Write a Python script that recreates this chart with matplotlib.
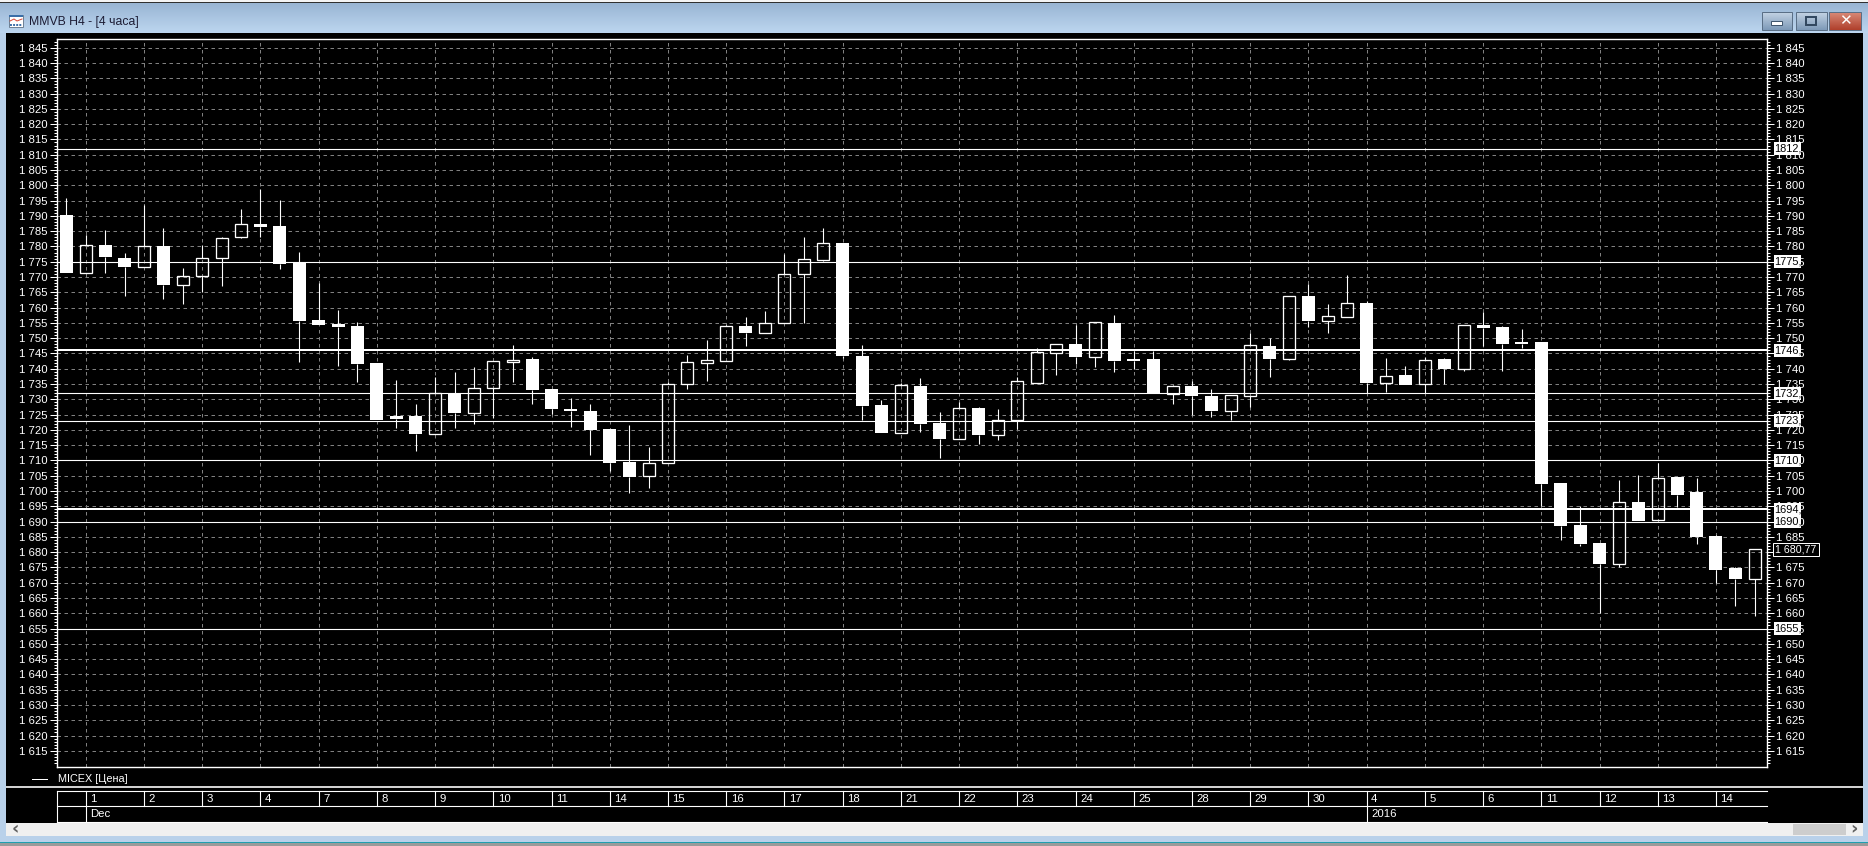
import matplotlib
matplotlib.use('Agg')
import matplotlib.pyplot as plt
from matplotlib.patches import Rectangle
import numpy as np

W, H = 1868, 846
plt.rcParams['font.family'] = ['Liberation Sans', 'DejaVu Sans']
PX = 0.72  # one pixel in points at dpi 100
LABEL_SIZE = 8.2

# candles, one row per 4 hour bar
opens = [1790.4, 1771.3, 1780.6, 1776.3, 1773.4, 1780.2, 1767.4, 1770.4, 1776.3, 1783.2,
         1787.4, 1786.7, 1774.5, 1755.8, 1754.5, 1753.9, 1741.8, 1724.5, 1724.5, 1718.5,
         1732.1, 1725.5, 1733.6, 1742.3, 1743.2, 1733.4, 1726.8, 1726.0, 1720.4, 1709.5,
         1704.8, 1709.0, 1734.9, 1741.8, 1742.6, 1754.0, 1751.8, 1754.8, 1771.1, 1775.6,
         1781.1, 1744.2, 1728.1, 1719.0, 1734.3, 1722.2, 1717.1, 1727.1, 1718.4, 1723.3,
         1735.4, 1745.2, 1748.1, 1743.7, 1755.0, 1743.2, 1743.2, 1731.8, 1734.3, 1731.0,
         1726.3, 1731.2, 1747.4, 1743.3, 1763.8, 1755.7, 1756.8, 1761.5, 1735.4, 1737.9,
         1734.9, 1743.2, 1740.0, 1754.2, 1753.6, 1748.7, 1748.7, 1702.6, 1688.9, 1683.0,
         1676.2, 1696.4, 1690.4, 1704.5, 1699.7, 1685.3, 1674.8, 1671.3]
closes = [1771.2, 1780.4, 1776.5, 1773.3, 1780.1, 1767.4, 1770.3, 1776.2, 1782.7, 1787.3,
          1786.5, 1774.1, 1755.5, 1754.3, 1753.6, 1741.5, 1723.3, 1723.4, 1718.5, 1732.2,
          1725.4, 1733.6, 1742.4, 1743.0, 1733.0, 1726.8, 1726.0, 1720.0, 1709.2, 1704.6,
          1709.0, 1734.9, 1742.1, 1742.7, 1753.9, 1751.7, 1754.8, 1770.9, 1775.8, 1781.0,
          1744.2, 1727.8, 1718.9, 1734.6, 1721.9, 1717.0, 1727.0, 1718.3, 1723.3, 1735.9,
          1745.3, 1748.0, 1743.8, 1755.2, 1742.5, 1742.5, 1731.7, 1734.2, 1731.0, 1726.2,
          1731.3, 1747.6, 1743.2, 1763.7, 1755.6, 1757.1, 1761.4, 1735.3, 1737.7, 1734.6,
          1742.7, 1740.0, 1754.2, 1753.4, 1748.0, 1748.2, 1702.3, 1688.5, 1682.6, 1676.1,
          1696.3, 1690.2, 1704.4, 1698.7, 1684.9, 1674.1, 1671.2, 1680.9]
highs = [1795.7, 1783.7, 1785.3, 1778.0, 1793.5, 1785.9, 1772.8, 1780.3, 1783.2, 1792.3,
         1798.9, 1795.1, 1778.3, 1767.9, 1759.1, 1755.3, 1741.8, 1736.3, 1728.5, 1737.4,
         1739.0, 1740.6, 1742.4, 1747.7, 1743.8, 1733.4, 1730.4, 1728.5, 1720.4, 1721.5,
         1714.3, 1735.8, 1744.5, 1749.4, 1754.3, 1756.9, 1758.9, 1777.5, 1783.1, 1786.0,
         1781.1, 1747.8, 1729.8, 1735.4, 1736.9, 1725.8, 1729.1, 1727.4, 1726.8, 1737.2,
         1746.7, 1748.0, 1754.2, 1755.2, 1757.6, 1745.9, 1745.8, 1734.5, 1736.0, 1733.2,
         1731.3, 1751.8, 1750.1, 1763.7, 1767.7, 1761.2, 1770.6, 1762.0, 1743.5, 1740.9,
         1743.9, 1743.4, 1754.2, 1758.4, 1754.0, 1753.0, 1748.7, 1702.6, 1695.1, 1683.0,
         1703.6, 1705.2, 1709.0, 1704.5, 1704.2, 1685.5, 1675.2, 1680.9]
lows = [1771.2, 1771.3, 1771.2, 1763.8, 1773.4, 1762.7, 1761.1, 1765.1, 1767.1, 1782.7,
        1783.2, 1772.5, 1742.3, 1754.3, 1741.0, 1735.5, 1723.3, 1720.7, 1713.0, 1718.5,
        1720.7, 1722.0, 1723.8, 1735.5, 1728.5, 1725.2, 1720.9, 1711.9, 1706.6, 1699.4,
        1701.1, 1709.0, 1733.5, 1736.0, 1742.6, 1747.4, 1751.8, 1754.8, 1755.0, 1775.1,
        1743.6, 1723.2, 1718.9, 1719.0, 1719.3, 1710.9, 1717.1, 1715.4, 1716.7, 1720.2,
        1735.4, 1738.0, 1741.5, 1740.7, 1738.9, 1740.0, 1731.7, 1728.5, 1724.8, 1724.2,
        1723.2, 1727.4, 1737.4, 1742.8, 1753.7, 1751.8, 1756.8, 1732.2, 1732.5, 1734.6,
        1732.2, 1735.1, 1739.3, 1747.4, 1739.3, 1746.8, 1695.2, 1684.0, 1682.0, 1660.2,
        1675.2, 1690.2, 1690.4, 1694.7, 1682.6, 1669.8, 1662.5, 1659.2]

levels = [1812, 1775, 1746, 1732, 1723, 1710, 1694, 1690, 1655]
thick_levels = [1746, 1694]
last_price = 1680.77
last_label = '1 680,77'

price_ticks = list(range(1615, 1850, 5))
days = ['1', '2', '3', '4', '7', '8', '9', '10', '11', '14', '15', '16', '17', '18', '21',
        '22', '23', '24', '25', '28', '29', '30', '4', '5', '6', '11', '12', '13', '14']
periods = {'Dec': 0, '2016': 22}

fig = plt.figure(figsize=(W / 100, H / 100), dpi=100, facecolor='#b9d1ea')

# window chrome, in pixels
ui = fig.add_axes([0, 0, 1, 1], zorder=0)
grad = np.linspace(0, 1, 64).reshape(-1, 1, 1)
title_col = np.array([0.60, 0.71, 0.83]) * (1 - grad) + np.array([0.74, 0.84, 0.94]) * grad
ui.imshow(title_col, extent=[0, W, 33, 3], aspect='auto', zorder=1, interpolation='bilinear')
ui.add_patch(Rectangle((0, 0), W, 2, fc='#f4f4f4', ec='none', zorder=2))
ui.add_patch(Rectangle((0, 2), W, 1, fc='#303030', ec='none', zorder=2))
ui.add_patch(Rectangle((6, 33), 1857, 790, fc='black', ec='none', zorder=2))
ui.add_patch(Rectangle((6, 823), 1857, 13, fc='#f0f0f0', ec='none', zorder=2))
ui.add_patch(Rectangle((1793, 824), 53, 11, fc='#cdcdcd', ec='none', zorder=3))
ui.add_patch(Rectangle((0, 842), W, 1, fc='#1f9fb0', ec='none', zorder=3))
ui.add_patch(Rectangle((0, 843), W, 3, fc='#9a9a9a', ec='none', zorder=3))
ui.text(15, 829.5, '‹', color='#606060', fontsize=13, fontweight='bold', ha='center', va='center',
        family='DejaVu Sans', zorder=4)
ui.text(1854, 829.5, '›', color='#606060', fontsize=13, fontweight='bold', ha='center', va='center',
        family='DejaVu Sans', zorder=4)

# title icon and caption
ui.add_patch(Rectangle((9, 15), 14, 12, fc='white', ec='#6f8296', lw=PX, zorder=4))
ui.add_patch(Rectangle((9, 15), 14, 2, fc='#3a6ea8', ec='none', zorder=5))
ui.plot([10, 14, 17, 22], [21, 19, 21, 19], color='#d94a3a', lw=PX, zorder=5)
ui.plot([10, 22], [25, 25], color='#3a6ea8', lw=1.4, ls=(0, (1, 0.6)), zorder=5)
ui.text(29, 22, 'MMVB H4 - [4 часа]', color='#1c1c34', fontsize=8.8, ha='left', va='center', zorder=4)

# caption buttons
for x0, x1, top, bot in [(1762, 1792, '#c3d3e4', '#7e9ab8'), (1796, 1827, '#c3d3e4', '#7e9ab8'),
                         (1829, 1861, '#d98a78', '#b0402c')]:
    g = np.linspace(0, 1, 32).reshape(-1, 1, 1)
    c0 = np.array(matplotlib.colors.to_rgb(top))
    c1 = np.array(matplotlib.colors.to_rgb(bot))
    ui.imshow(c0 * (1 - g) + c1 * g, extent=[x0, x1, 30, 12], aspect='auto', zorder=3)
    ui.add_patch(Rectangle((x0, 12), x1 - x0, 18, fc='none', ec='#5a6f86', lw=PX, zorder=4))
ui.add_patch(Rectangle((1771, 21), 11, 4, fc='white', ec='#40566e', lw=PX, zorder=5))
ui.add_patch(Rectangle((1806, 17), 10, 8, fc='none', ec='#30465e', lw=1.4, zorder=5))
ui.text(1845, 20.5, '✕', color='white', fontsize=11, fontweight='bold', ha='center', va='center',
        family='DejaVu Sans', zorder=5)

# legend strip
ui.plot([32, 47], [779, 779], color='white', lw=PX, zorder=4)
ui.text(57.5, 779, 'MICEX [Цена]', color='white', fontsize=7.8, ha='left', va='center', zorder=4)
ui.add_patch(Rectangle((6, 786.5), 1857, 2, fc='#d0d0d0', ec='none', zorder=4))
ui.set_xlim(0, W)
ui.set_ylim(H, 0)
ui.axis('off')

# main chart
left, right, top, bottom = 56.5, 1767, 39.3, 766.7
ax = fig.add_axes([left / W, 1 - bottom / H, (right - left) / W, (bottom - top) / H], zorder=2)
ax.set_facecolor('none')
x = np.arange(len(opens))
ax.set_xlim(-0.51, 87.63)
ax.set_ylim(1609.8, 1847.75)
grid_x = np.arange(len(days)) * 3 + 1

ax.set_yticks(price_ticks)
ax.set_yticklabels([f'1 {v - 1000}' for v in price_ticks])
ax.set_yticks(np.arange(1611, 1848), minor=True)
ax.set_xticks(grid_x)
ax.set_xticklabels([])
ax.tick_params(axis='x', length=0)
ax.tick_params(axis='y', which='major', left=True, right=True, labelleft=True, labelright=True,
               direction='out', length=5, width=PX, color='white', labelcolor='white',
               labelsize=LABEL_SIZE, pad=1.5)
ax.tick_params(axis='y', which='minor', left=True, right=True, direction='out', length=2.5,
               width=PX, color='white')
ax.grid(True, which='major', color='#808080', lw=PX, ls=(0, (3.5, 3.5)), zorder=1)
ax.set_axisbelow(True)
for s in ax.spines.values():
    s.set_color('white')
    s.set_linewidth(1.0)

for lev in levels:
    ax.axhline(lev, color='white', lw=2 * PX if lev in thick_levels else PX * 1.1, zorder=2)

opens_a, closes_a = np.array(opens), np.array(closes)
body_top = np.maximum(opens_a, closes_a)
body_bot = np.minimum(opens_a, closes_a)
up = closes_a > opens_a
# wicks stop at the body, hollow bodies show the grid through
ax.vlines(x, body_top, highs, color='white', lw=PX * 1.1, zorder=3)
ax.vlines(x, lows, body_bot, color='white', lw=PX * 1.1, zorder=3)
ax.bar(x[~up], (body_top - body_bot)[~up], bottom=body_bot[~up], width=0.67,
       color='white', edgecolor='none', zorder=4, antialiased=False)
ax.bar(x[up], (body_top - body_bot)[up], bottom=body_bot[up], width=0.62,
       facecolor='none', edgecolor='white', linewidth=PX * 1.3, zorder=4)

# level and price flags on the right scale
over = fig.add_axes([0, 0, 1, 1], zorder=3)
over.set_xlim(0, W)
over.set_ylim(H, 0)
over.axis('off')
over.patch.set_alpha(0)


def price_y(v):
    return H - ax.transData.transform((0, v))[1]


for lev in levels:
    y_px = price_y(lev)
    over.add_patch(Rectangle((1774, y_px - 6.5), 27, 13, fc='white', ec='none', zorder=3))
    over.text(1787.5, y_px, f'{lev},', color='black', fontsize=LABEL_SIZE - 0.3, ha='center', va='center',
              zorder=4)
y_px = price_y(last_price)
over.add_patch(Rectangle((1772.5, y_px - 6.5), 46, 13, fc='black', ec='white', lw=PX, zorder=3))
over.text(1795.5, y_px, last_label, color='white', fontsize=LABEL_SIZE - 0.5, ha='center', va='center', zorder=4)

# date scale under the chart
gx = [ax.transData.transform((g, 0))[0] for g in grid_x]
over.plot([left, right], [791, 791], color='white', lw=PX * 1.1)
over.plot([left, right], [806.3, 806.3], color='white', lw=PX * 1.1)
over.plot([left, right], [821.7, 821.7], color='white', lw=PX * 1.1)
over.plot([left, left], [791, 821.7], color='white', lw=PX * 1.1)
for g, d in zip(gx, days):
    over.plot([g, g], [791, 806.3], color='white', lw=PX * 1.1)
    over.text(g + 4.5, 799, d, color='white', fontsize=LABEL_SIZE, ha='left', va='center')
for name, idx in periods.items():
    over.plot([gx[idx], gx[idx]], [806.3, 821.7], color='white', lw=PX * 1.1)
    over.text(gx[idx] + 4.5, 814, name, color='white', fontsize=LABEL_SIZE, ha='left', va='center')

fig.savefig('out.png', dpi=100, facecolor=fig.get_facecolor())
